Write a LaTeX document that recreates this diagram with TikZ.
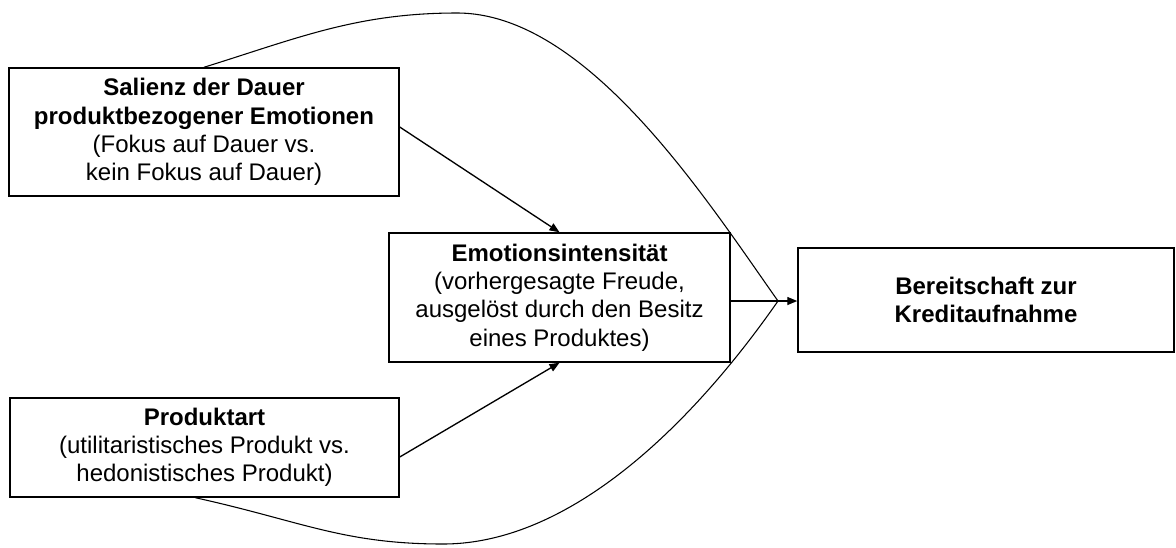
\documentclass[tikz,border=0pt]{standalone}
\usepackage{fontspec}
\setmainfont{Liberation Sans}
\usetikzlibrary{arrows.meta,calc}
\begin{document}
\begin{tikzpicture}[x=0.75pt,y=-0.75pt,
  box/.style={draw,line width=1.1pt,align=center,inner sep=0pt,font=\fontsize{18}{21.2}\selectfont},
  link/.style={line width=1pt,-{Triangle[length=7.5pt,width=6pt]}},
  curve/.style={line width=0.8pt}]
\useasboundingbox (0,0) rectangle (1176,547);
\node[box,minimum width=292.5pt,minimum height=96pt] (b1) at (204,132)
  {\textbf{Salienz der Dauer}\\\textbf{produktbezogener Emotionen}\\(Fokus auf Dauer vs.\\kein Fokus auf Dauer)};
\node[box,minimum width=255.75pt,minimum height=96.75pt] (b2) at (559.5,297.5)
  {\textbf{Emotionsintensität}\\(vorhergesagte Freude,\\ausgelöst durch den Besitz\\eines Produktes)};
\node[box,minimum width=282pt,minimum height=78pt] (b3) at (986,300)
  {\textbf{Bereitschaft zur}\\\textbf{Kreditaufnahme}};
\node[box,minimum width=291.75pt,minimum height=74.25pt] (b4) at (204.5,447.5)
  {\textbf{Produktart}\\(utilitaristisches Produkt vs.\\hedonistisches Produkt)};
\coordinate (m) at (778,301);
\draw[link] ($(b1.east)+(0,-5)$) -- (b2.north);
\draw[link] ($(b4.east)+(0,9.5)$) -- (b2.south);
\draw[link] (b2.east |- m) -- (b3.west |- m);
\draw[curve] (b1.north) .. controls (298,38) and (357,13) .. (457,13)
  .. controls (587,13) and (706,199) .. (m);
\draw[curve] ($(b4.south)+(-9,0)$) .. controls (301,521) and (343,544) .. (443,544)
  .. controls (573,544) and (695.5,419.5) .. (m);
\end{tikzpicture}
\end{document}
